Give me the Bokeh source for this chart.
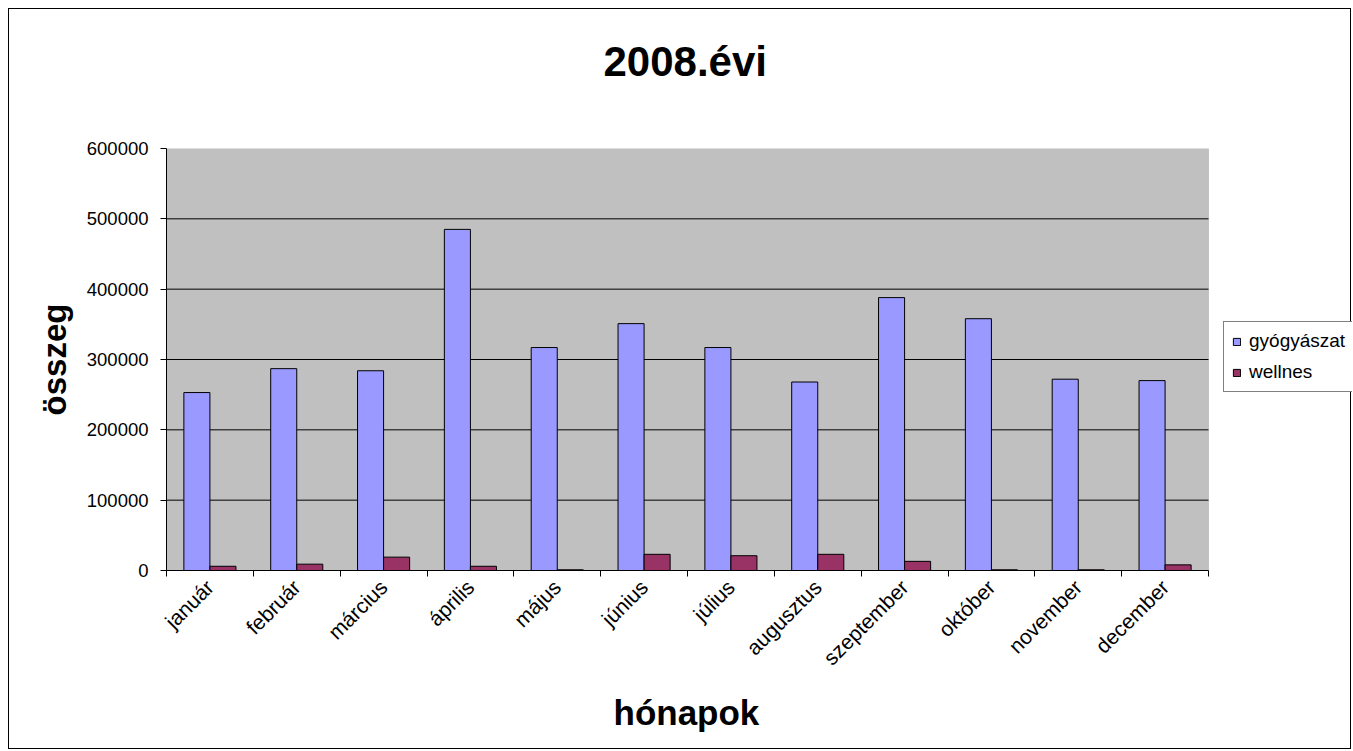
from math import pi
from bokeh.plotting import figure
from bokeh.models import (ColumnDataSource, Range1d, FixedTicker, NumeralTickFormatter,
                          Legend, LegendItem, BoxAnnotation, Title)
from bokeh.transform import dodge
from bokeh.embed import file_html
from bokeh.resources import INLINE

months = ["január", "február", "március", "április", "május", "június",
          "július", "augusztus", "szeptember", "október", "november", "december"]
gyogyaszat = [253000, 287000, 284000, 485000, 317000, 351000,
              317000, 268000, 388000, 358000, 272000, 270000]
wellnes = [6000, 9000, 19000, 6000, 1000, 23000,
           21000, 23000, 13000, 1000, 1000, 8000]
y_ticks = [0, 100000, 200000, 300000, 400000, 500000, 600000]

FONT = "Liberation Sans"
n = len(months)
idx = list(range(1, n + 1))
src = ColumnDataSource(dict(x=idx, g=gyogyaszat, w=wellnes))

# layout (pixels)
W, H = 1343, 741
BL, BT, BB = 157, 139, 180
PLOT_W = 1042                      # width of the grey plot area
frame_w = W - BL
x_lo, x_hi = 0.5, n + 0.5
x_end = x_lo + (x_hi - x_lo) * frame_w / PLOT_W

p = figure(width=W, height=H, output_backend="svg", toolbar_location=None,
           x_range=Range1d(x_lo, x_end), y_range=Range1d(y_ticks[0], y_ticks[-1]),
           min_border_left=BL, min_border_right=0, min_border_top=BT,
           min_border_bottom=BB)
p.styles = {"border": "1px solid black", "margin-left": "8px", "margin-top": "8px"}

p.title.text = "2008.évi\n "
p.title.text_font = FONT
p.title.text_font_size = "42px"
p.title.text_font_style = "bold"
p.title.text_color = "black"
p.title.align = "left"
p.title.offset = 437
p.title.standoff = 34

p.background_fill_color = "white"
p.border_fill_color = "white"
p.outline_line_color = None
p.xgrid.visible = False
p.ygrid.visible = False

# grey plot area
p.add_layout(BoxAnnotation(left=x_lo, right=x_hi, bottom=y_ticks[0], top=y_ticks[-1],
                           fill_color="#C0C0C0", fill_alpha=1,
                           line_color="#808080", line_width=1, level="underlay"))
# horizontal grid lines
gy = y_ticks[1:-1]
p.segment(x0=[x_lo] * len(gy), x1=[x_hi] * len(gy), y0=gy, y1=gy,
          line_color="black", line_width=1)

r1 = p.vbar(x=dodge("x", -0.15, range=p.x_range), top="g", width=0.3, source=src,
            fill_color="#9999FF", line_color="black", line_width=1)
r2 = p.vbar(x=dodge("x", 0.15, range=p.x_range), top="w", width=0.3, source=src,
            fill_color="#993366", line_color="black", line_width=1)

# x axis
xa = p.xaxis[0]
xa.bounds = (x_lo, x_hi)
xa.ticker = FixedTicker(ticks=idx, minor_ticks=[i + 0.5 for i in range(0, n + 1)])
xa.major_label_overrides = {i: m for i, m in zip(idx, months)}
xa.major_label_orientation = pi / 4
xa.major_tick_out = 0
xa.major_tick_in = 0
xa.minor_tick_out = 6
xa.minor_tick_in = 0
xa.minor_tick_line_color = "black"
xa.axis_line_color = "black"
xa.major_label_text_font = FONT
xa.major_label_text_font_size = "21px"
xa.major_label_text_color = "black"
xa.major_label_standoff = 7

xlab = Title(text="hónapok", text_font=FONT, text_font_size="35px",
             text_font_style="bold", text_color="black", align="left",
             offset=447, standoff=20)
p.add_layout(xlab, "below")

# y axis
ya = p.yaxis[0]
ya.ticker = FixedTicker(ticks=y_ticks)
ya.formatter = NumeralTickFormatter(format="0")
ya.major_tick_out = 6
ya.major_tick_in = 0
ya.minor_tick_out = 0
ya.minor_tick_in = 0
ya.axis_line_color = "black"
ya.major_tick_line_color = "black"
ya.major_label_text_font = FONT
ya.major_label_text_font_size = "18.5px"
ya.major_label_text_color = "black"
ya.major_label_standoff = 12
ya.axis_label = "összeg"
ya.axis_label_text_font = FONT
ya.axis_label_text_font_size = "33px"
ya.axis_label_text_font_style = "bold"
ya.axis_label_text_color = "black"
ya.axis_label_standoff = 11

legend = Legend(items=[LegendItem(label="gyógyászat", renderers=[r1]),
                       LegendItem(label="wellnes", renderers=[r2])],
                location=(PLOT_W + 15, 178))
legend.label_text_font = FONT
legend.label_text_font_size = "19px"
legend.label_text_color = "black"
legend.glyph_width = 9
legend.glyph_height = 9
legend.label_standoff = 8
legend.label_height = 20
legend.spacing = 9
legend.padding = 8
legend.margin = 0
legend.border_line_color = "black"
legend.border_line_width = 1
legend.background_fill_color = "white"
legend.background_fill_alpha = 1
p.add_layout(legend, "center")

open("out.html", "w").write(file_html(p, INLINE))
